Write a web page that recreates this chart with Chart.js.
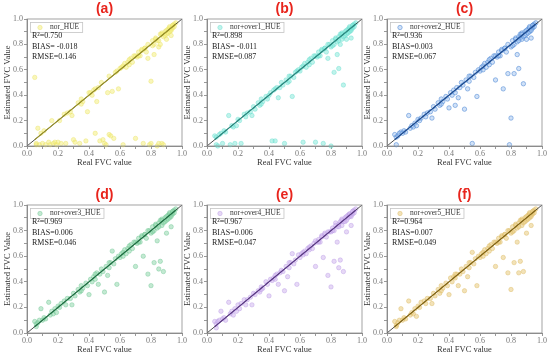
<!DOCTYPE html>
<html>
<head>
<meta charset="utf-8">
<script src="https://cdn.jsdelivr.net/npm/chart.js@4.4.0/dist/chart.umd.min.js"></script>
<style>
body { margin: 0; background: #fff; }
#wrap { position: relative; width: 550px; height: 359px; overflow: hidden; background: #fff; }
#wrap canvas { position: absolute; }
</style>
</head>
<body>
<div id="wrap">
  <canvas id="panelA" width="190" height="175" style="left:0px;top:0px"></canvas>
  <canvas id="panelB" width="190" height="175" style="left:180px;top:0px"></canvas>
  <canvas id="panelC" width="190" height="175" style="left:360px;top:0px"></canvas>
  <canvas id="panelD" width="190" height="179" style="left:0px;top:180px"></canvas>
  <canvas id="panelE" width="190" height="179" style="left:180px;top:180px"></canvas>
  <canvas id="panelF" width="190" height="179" style="left:360px;top:180px"></canvas>
</div>
<script>
// real FVC of the samples (same samples in every panel)
var realFVC = [
  0.05,0.06,0.06,0.07,0.08,0.09,0.10,0.11,0.12,0.14,
  0.15,0.16,0.17,0.18,0.19,0.20,0.21,0.22,0.24,0.25,
  0.26,0.28,0.29,0.30,0.31,0.33,0.34,0.35,0.36,0.38,
  0.39,0.40,0.41,0.42,0.43,0.44,0.45,0.46,0.47,0.48,
  0.49,0.50,0.51,0.52,0.53,0.54,0.55,0.56,0.57,0.58,
  0.59,0.60,0.61,0.62,0.63,0.64,0.65,0.66,0.67,0.68,
  0.69,0.70,0.71,0.72,0.73,0.74,0.75,0.76,0.77,0.78,
  0.79,0.80,0.80,0.81,0.82,0.82,0.83,0.84,0.84,0.85,
  0.85,0.86,0.86,0.87,0.87,0.88,0.88,0.89,0.90,0.90,
  0.91,0.92,0.92,0.93,0.93,0.94,0.94,0.95,0.95,0.96,
  0.62,0.66,0.70,0.72,0.74,0.76,0.78,0.81,0.83,0.85,
  0.87,0.89,0.90,0.91,0.92,0.93,0.94,0.35,0.44,0.53
];

var estA = [
  0.54,0.02,0.01,0.14,0.01,0.10,0.02,0.12,0.01,0.03,
  0.01,0.20,0.02,0.03,0.01,0.03,0.20,0.02,0.25,0.02,
  0.26,0.27,0.24,0.05,0.03,0.34,0.02,0.37,0.35,0.04,
  0.27,0.42,0.42,0.40,0.44,0.10,0.35,0.46,0.04,0.50,
  0.05,0.02,0.01,0.42,0.09,0.08,0.43,0.06,0.58,0.59,
  0.45,0.61,0.62,0.01,0.65,0.62,0.66,0.64,0.69,0.66,
  0.71,0.06,0.70,0.74,0.71,0.76,0.02,0.77,0.74,0.69,
  0.01,0.51,0.02,0.83,0.72,0.80,0.85,0.00,0.83,0.02,
  0.78,0.88,0.80,0.02,0.89,0.01,0.86,0.90,0.84,0.88,
  0.92,0.90,0.94,0.87,0.92,0.95,0.93,0.96,0.94,0.97,
  0.63,0.68,0.71,0.71,0.75,0.77,0.80,0.79,0.84,0.83,
  0.88,0.87,0.91,0.89,0.93,0.91,0.95,0.33,0.45,0.55
];

var estB = [
  0.08,0.01,0.07,0.00,0.09,0.10,0.02,0.12,0.11,0.24,
  0.01,0.16,0.15,0.02,0.16,0.21,0.20,0.02,0.25,0.23,
  0.26,0.27,0.24,0.31,0.29,0.34,0.32,0.37,0.35,0.39,
  0.37,0.40,0.42,0.04,0.44,0.04,0.46,0.38,0.46,0.50,
  0.48,0.02,0.52,0.50,0.51,0.55,0.39,0.54,0.58,0.59,
  0.60,0.59,0.62,0.03,0.65,0.62,0.66,0.64,0.69,0.66,
  0.71,0.03,0.70,0.74,0.71,0.76,0.02,0.77,0.74,0.69,
  0.80,0.00,0.78,0.83,0.58,0.80,0.85,0.82,0.72,0.86,
  0.61,0.88,0.80,0.84,0.89,0.48,0.86,0.90,0.84,0.88,
  0.92,0.90,0.94,0.85,0.92,0.95,0.93,0.96,0.94,0.97,
  0.63,0.68,0.71,0.71,0.75,0.77,0.80,0.79,0.84,0.83,
  0.88,0.87,0.91,0.89,0.93,0.91,0.95,0.33,0.45,0.55
];

var estC = [
  0.09,0.01,0.07,0.08,0.10,0.11,0.10,0.12,0.11,0.24,
  0.14,0.16,0.15,0.18,0.16,0.21,0.20,0.22,0.25,0.23,
  0.26,0.27,0.22,0.31,0.29,0.34,0.32,0.37,0.35,0.39,
  0.37,0.30,0.42,0.40,0.44,0.32,0.46,0.38,0.46,0.50,
  0.48,0.29,0.52,0.45,0.51,0.55,0.02,0.54,0.58,0.39,
  0.60,0.59,0.62,0.60,0.65,0.62,0.66,0.64,0.69,0.66,
  0.71,0.52,0.70,0.74,0.71,0.76,0.45,0.77,0.74,0.57,
  0.01,0.22,0.78,0.83,0.57,0.80,0.85,0.82,0.72,0.86,
  0.61,0.88,0.85,0.84,0.89,0.49,0.86,0.90,0.84,0.88,
  0.92,0.90,0.94,0.85,0.92,0.95,0.93,0.96,0.94,0.97,
  0.63,0.68,0.71,0.71,0.75,0.77,0.80,0.79,0.84,0.83,
  0.88,0.87,0.91,0.89,0.93,0.91,0.95,0.33,0.42,0.55
];

var estD = [
  0.09,0.05,0.07,0.08,0.10,0.19,0.10,0.12,0.11,0.24,
  0.14,0.17,0.15,0.19,0.16,0.21,0.20,0.23,0.25,0.22,
  0.27,0.27,0.22,0.31,0.29,0.34,0.32,0.37,0.35,0.39,
  0.37,0.30,0.42,0.40,0.44,0.42,0.47,0.38,0.46,0.50,
  0.48,0.32,0.52,0.45,0.51,0.55,0.64,0.54,0.58,0.38,
  0.60,0.59,0.62,0.60,0.65,0.62,0.66,0.64,0.69,0.66,
  0.71,0.52,0.70,0.74,0.71,0.76,0.60,0.77,0.74,0.46,
  0.80,0.37,0.78,0.83,0.55,0.80,0.85,0.82,0.72,0.86,
  0.50,0.88,0.56,0.84,0.89,0.48,0.86,0.90,0.78,0.88,
  0.92,0.90,0.94,0.83,0.92,0.95,0.93,0.96,0.94,0.97,
  0.63,0.68,0.71,0.71,0.75,0.77,0.80,0.79,0.84,0.83,
  0.88,0.87,0.91,0.89,0.93,0.91,0.95,0.33,0.46,0.55
];

var estE = [
  0.09,0.04,0.07,0.09,0.10,0.17,0.11,0.12,0.10,0.24,
  0.15,0.17,0.14,0.19,0.17,0.22,0.19,0.23,0.26,0.22,
  0.26,0.28,0.22,0.31,0.30,0.33,0.32,0.36,0.35,0.40,
  0.38,0.29,0.42,0.41,0.43,0.42,0.46,0.38,0.47,0.49,
  0.48,0.33,0.52,0.44,0.51,0.55,0.62,0.54,0.57,0.38,
  0.61,0.59,0.62,0.61,0.64,0.62,0.66,0.65,0.68,0.66,
  0.70,0.52,0.71,0.73,0.71,0.76,0.59,0.77,0.75,0.45,
  0.79,0.36,0.79,0.82,0.56,0.80,0.86,0.83,0.71,0.85,
  0.51,0.87,0.57,0.84,0.89,0.48,0.87,0.90,0.79,0.88,
  0.92,0.91,0.93,0.84,0.92,0.95,0.93,0.96,0.94,0.97,
  0.63,0.67,0.72,0.71,0.75,0.78,0.79,0.80,0.84,0.83,
  0.88,0.87,0.91,0.90,0.93,0.91,0.95,0.34,0.45,0.55
];

var estF = [
  0.09,0.05,0.06,0.08,0.10,0.19,0.10,0.12,0.11,0.25,
  0.14,0.16,0.15,0.19,0.13,0.21,0.20,0.24,0.25,0.23,
  0.27,0.27,0.23,0.31,0.29,0.34,0.31,0.37,0.35,0.39,
  0.37,0.30,0.43,0.40,0.44,0.43,0.46,0.37,0.46,0.50,
  0.48,0.33,0.52,0.44,0.51,0.55,0.63,0.54,0.58,0.37,
  0.60,0.59,0.62,0.60,0.65,0.62,0.66,0.64,0.69,0.66,
  0.71,0.52,0.70,0.74,0.71,0.76,0.59,0.77,0.74,0.47,
  0.80,0.34,0.78,0.83,0.55,0.80,0.85,0.82,0.71,0.86,
  0.47,0.88,0.56,0.84,0.89,0.48,0.86,0.90,0.78,0.88,
  0.92,0.90,0.94,0.84,0.92,0.95,0.93,0.96,0.94,0.97,
  0.63,0.68,0.71,0.71,0.75,0.77,0.80,0.79,0.84,0.83,
  0.88,0.87,0.91,0.89,0.93,0.91,0.95,0.33,0.46,0.55
];

var panelIds = ['panelA','panelB','panelC','panelD','panelE','panelF'];
var panelTitles = ['(a)','(b)','(c)','(d)','(e)','(f)'];
var seriesNames = ['nor_HUE','nor+over1_HUE','nor+over2_HUE','nor+over3_HUE','nor+over4_HUE','nor+over5_HUE'];
var estimates = [estA, estB, estC, estD, estE, estF];
var r2Values = [0.750, 0.898, 0.936, 0.969, 0.967, 0.964];
var biasValues = [-0.018, -0.011, 0.003, 0.006, 0.006, 0.007];
var rmseValues = [0.146, 0.087, 0.067, 0.046, 0.047, 0.049];
var fitSlopes = [1.0, 1.0, 1.0, 1.0, 1.0, 1.0];
var fitIntercepts = [0.0, 0.0, 0.0, 0.0, 0.0, 0.0];
var axisMin = 0, axisMax = 1;
var tickLabels = ['0.0','0.2','0.4','0.6','0.8','1.0'];

var pointFills = ['rgba(243,238,115,0.5)','rgba(125,232,216,0.5)','rgba(150,188,238,0.45)',
                  'rgba(135,212,165,0.5)','rgba(205,178,238,0.5)','rgba(232,202,125,0.55)'];
var pointEdges = ['rgba(232,226,100,0.5)','rgba(100,220,204,0.5)','rgba(80,138,214,0.7)',
                  'rgba(105,195,142,0.5)','rgba(182,150,228,0.5)','rgba(220,186,98,0.55)'];
var fitColors = ['#9c9426','#2b8f86','#1d4f9a','#1e7445','#5e3a8c','#8a6a14'];

function tickText(value) {
    var s = Number(value).toFixed(1);
    return tickLabels.indexOf(s) >= 0 ? s : '';
}

// legend box, statistics and frame inside the plot area
var statsBox = {
    id: 'statsBox',
    afterDraw: function(chart, args, opts) {
        var ctx = chart.ctx, area = chart.chartArea;
        ctx.save();
        ctx.font = '7.5px "Liberation Serif"';
        var w = ctx.measureText(opts.label).width + 23;
        var bx = area.left + 3, by = area.top + 3;
        ctx.fillStyle = '#fff';
        ctx.fillRect(bx, by, w, 10);
        ctx.strokeStyle = '#c4c4c4';
        ctx.lineWidth = 0.8;
        ctx.strokeRect(bx + 0.5, by + 0.5, w, 10);
        ctx.beginPath();
        ctx.arc(bx + 10, by + 5.5, 2.2, 0, Math.PI * 2);
        ctx.fillStyle = opts.fill;
        ctx.fill();
        ctx.strokeStyle = opts.edge;
        ctx.stroke();
        ctx.fillStyle = '#333';
        ctx.textBaseline = 'middle';
        ctx.fillText(opts.label, bx + 20, by + 5.5);

        ctx.font = '8px "Liberation Serif"';
        ctx.fillStyle = '#222';
        var bias = (opts.bias < 0 ? ' ' : '') + opts.bias.toFixed(3);
        ctx.fillText('R\u00b2=' + opts.r2.toFixed(3), area.left + 5, area.top + 17);
        ctx.fillText('BIAS=' + bias, area.left + 5, area.top + 27.5);
        ctx.fillText('RMSE=' + opts.rmse.toFixed(3), area.left + 5, area.top + 37.5);

        ctx.strokeStyle = '#8c8c8c';
        ctx.lineWidth = 0.8;
        ctx.strokeRect(area.left, area.top, area.right - area.left, area.bottom - area.top);
        ctx.restore();
    }
};

for (var i = 0; i < 6; i++) {
    var lowerRow = i >= 3;
    var points = [];
    for (var k = 0; k < realFVC.length; k++) {
        points.push({ x: realFVC[k], y: estimates[i][k] });
    }
    var xLo = Math.min.apply(null, realFVC), xHi = Math.max.apply(null, realFVC);
    var fitLine = [
        { x: xLo, y: fitSlopes[i] * xLo + fitIntercepts[i] },
        { x: xHi, y: fitSlopes[i] * xHi + fitIntercepts[i] }
    ];
    var oneToOne = [{ x: axisMin, y: axisMin }, { x: axisMax, y: axisMax }];

    new Chart(document.getElementById(panelIds[i]).getContext('2d'), {
        type: 'scatter',
        data: {
            datasets: [{
                type: 'line',
                data: fitLine,
                borderColor: fitColors[i],
                borderWidth: 1.2,
                pointRadius: 0
            }, {
                type: 'line',
                data: oneToOne,
                borderColor: '#222',
                borderWidth: 0.8,
                pointRadius: 0
            }, {
                label: seriesNames[i],
                data: points,
                backgroundColor: pointFills[i],
                borderColor: pointEdges[i],
                borderWidth: 0.8,
                pointRadius: 2.2,
                clip: 4
            }]
        },
        options: {
            responsive: false,
            animation: false,
            layout: { padding: { left: 0, right: 8, top: 0, bottom: 0 } },
            plugins: {
                legend: { display: false },
                tooltip: { enabled: false },
                title: {
                    display: true,
                    fullSize: false,
                    text: panelTitles[i],
                    color: '#e8241c',
                    font: { family: 'Liberation Sans', size: 14, weight: 'bold' },
                    padding: lowerRow ? { top: 7, bottom: 1.2 } : { top: 1, bottom: 1.2 }
                },
                statsBox: {
                    label: seriesNames[i],
                    r2: r2Values[i],
                    bias: biasValues[i],
                    rmse: rmseValues[i],
                    fill: pointFills[i],
                    edge: pointEdges[i]
                }
            },
            scales: {
                x: {
                    type: 'linear',
                    min: axisMin,
                    max: axisMax,
                    ticks: { stepSize: 0.1, autoSkip: false, maxRotation: 0, padding: 0, color: '#777',
                             font: { family: 'Liberation Serif', size: 8 }, callback: tickText },
                    grid: { drawOnChartArea: false, drawTicks: true, tickLength: 3, color: '#999' },
                    border: { color: '#8c8c8c' },
                    title: { display: true, text: 'Real FVC value', color: '#333',
                             font: { family: 'Liberation Serif', size: 8.5 },
                             padding: { top: 0, bottom: lowerRow ? 4 : 7 } },
                    afterFit: (function(h) {
                        return function(scale) { scale.height = h; scale.paddingLeft = 0; scale.paddingRight = 0; };
                    })(lowerRow ? 26 : 29)
                },
                y: {
                    type: 'linear',
                    min: axisMin,
                    max: axisMax,
                    ticks: { stepSize: 0.1, autoSkip: false, padding: 1, color: '#777',
                             font: { family: 'Liberation Serif', size: 8 }, callback: tickText },
                    grid: { drawOnChartArea: false, drawTicks: true, tickLength: 3, color: '#999' },
                    border: { color: '#8c8c8c' },
                    title: { display: true, text: 'Estimated FVC Value', color: '#333',
                             font: { family: 'Liberation Serif', size: 8.5 },
                             padding: { top: 3, bottom: 0 } },
                    afterFit: function(scale) { scale.width = 27; scale.paddingTop = 0; scale.paddingBottom = 0; }
                }
            }
        },
        plugins: [statsBox]
    });
}
</script>
</body>
</html>
